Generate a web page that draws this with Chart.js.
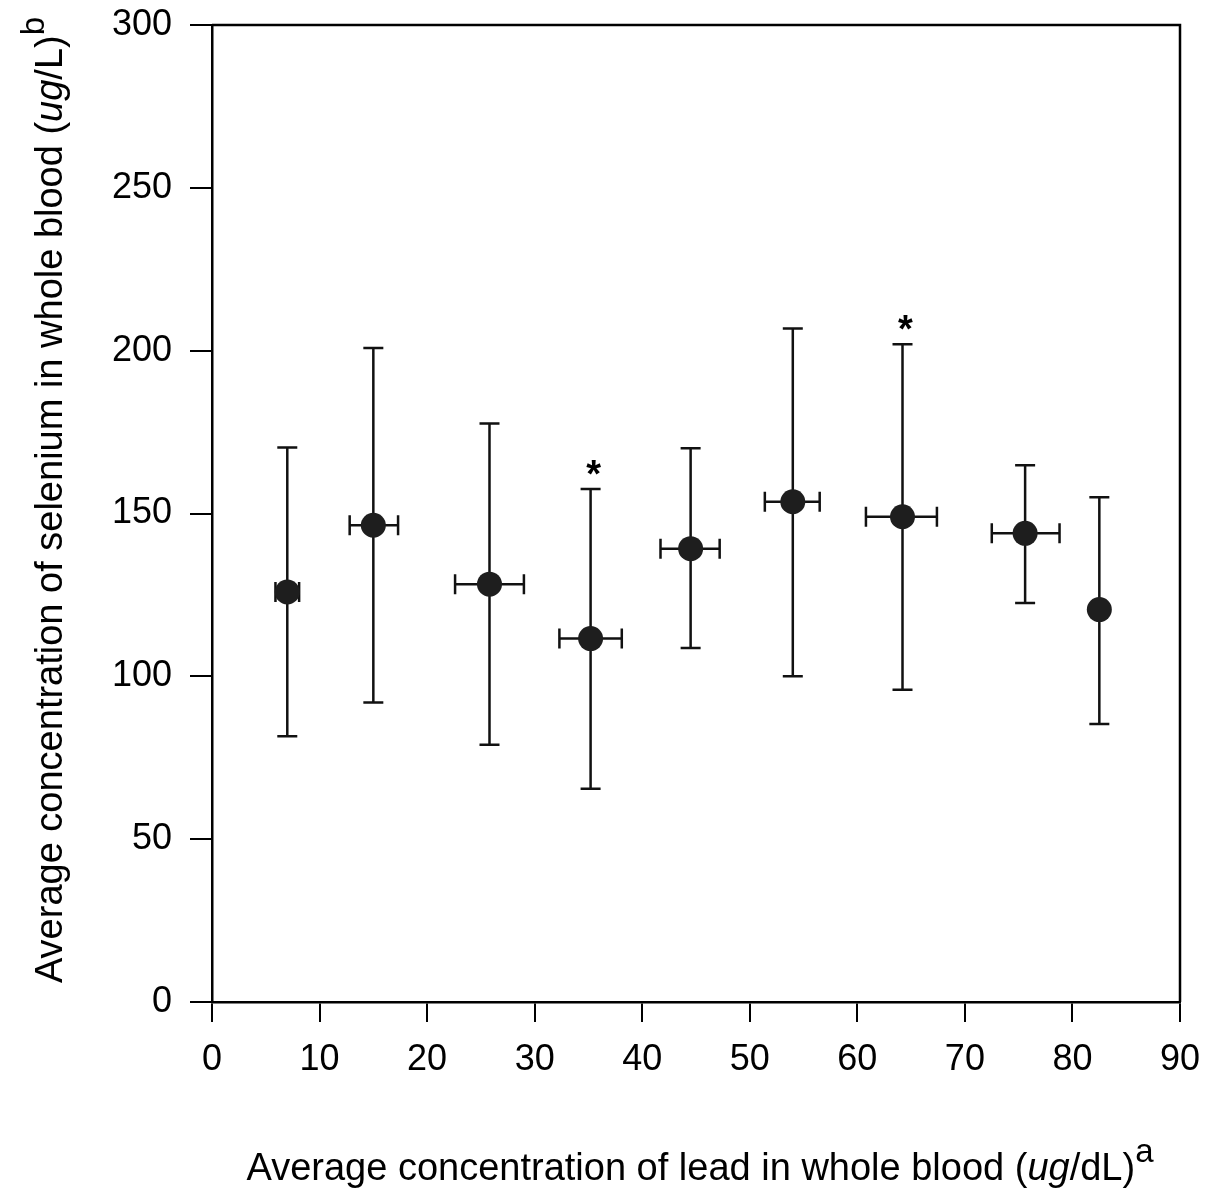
<!DOCTYPE html>
<html>
<head>
<meta charset="utf-8">
<script src="https://cdn.jsdelivr.net/npm/chart.js@4.4.1/dist/chart.umd.min.js"></script>
<style>
  html, body { margin: 0; padding: 0; background: #fff; }
  #wrap { width: 1205px; height: 1198px; position: relative; }
</style>
</head>
<body>
<div id="wrap"><canvas id="myChart"></canvas></div>
<script>
// lead in whole blood (ug/dL): group mean and horizontal error bar ends
var leadMean = [7.0, 15.0, 25.8, 35.2, 44.5, 54.0, 64.2, 75.6, 82.5];
var leadLow  = [5.9, 12.8, 22.6, 32.3, 41.7, 51.4, 60.8, 72.5, 82.5];
var leadHigh = [8.1, 17.3, 29.0, 38.1, 47.2, 56.5, 67.4, 78.8, 82.5];

// selenium in whole blood (ug/L): mean and vertical error bar ends
var seMean = [125.9, 146.4, 128.3, 111.6, 139.2, 153.6, 149.0, 143.9, 120.5];
var seLow  = [81.6, 92.0, 79.0, 65.5, 108.7, 100.0, 95.9, 122.5, 85.4];
var seHigh = [170.3, 200.8, 177.6, 157.5, 170.0, 206.8, 202.0, 164.8, 155.0];

// groups marked with an asterisk
var starred = [3, 6];

var xTicks = [0, 10, 20, 30, 40, 50, 60, 70, 80, 90];
var yTicks = [0, 50, 100, 150, 200, 250, 300];

var FONT = '"Liberation Sans", Arial, sans-serif';
var FS = 36;   // tick labels
var TS = 38;   // axis titles

// draws a line of text made of parts (plain / italic / superscript), centred on 0
function drawRich(ctx, parts) {
  var w = 0;
  parts.forEach(function(p) {
    ctx.font = (p.italic ? 'italic ' : '') + (p.sup ? 33 : TS) + 'px ' + FONT;
    p.w = ctx.measureText(p.t).width;
    w += p.w;
  });
  var x = -w / 2;
  parts.forEach(function(p) {
    ctx.font = (p.italic ? 'italic ' : '') + (p.sup ? 33 : TS) + 'px ' + FONT;
    ctx.fillText(p.t, x, p.sup ? -18 : 0);
    x += p.w;
  });
}

var errorBars = {
  id: 'errorBars',
  beforeDatasetsDraw: function(chart) {
    var ctx = chart.ctx, xs = chart.scales.x, ys = chart.scales.y;
    var cap = 10;
    ctx.save();
    ctx.strokeStyle = '#111';
    ctx.lineWidth = 2.5;
    for (var i = 0; i < leadMean.length; i++) {
      var px = xs.getPixelForValue(leadMean[i]);
      var py = ys.getPixelForValue(seMean[i]);
      var top = ys.getPixelForValue(seHigh[i]);
      var bot = ys.getPixelForValue(seLow[i]);
      ctx.beginPath();
      ctx.moveTo(px, top); ctx.lineTo(px, bot);
      ctx.moveTo(px - cap, top); ctx.lineTo(px + cap, top);
      ctx.moveTo(px - cap, bot); ctx.lineTo(px + cap, bot);
      if (leadHigh[i] > leadLow[i]) {
        var l = xs.getPixelForValue(leadLow[i]);
        var r = xs.getPixelForValue(leadHigh[i]);
        ctx.moveTo(l, py); ctx.lineTo(r, py);
        ctx.moveTo(l, py - cap); ctx.lineTo(l, py + cap);
        ctx.moveTo(r, py - cap); ctx.lineTo(r, py + cap);
      }
      ctx.stroke();
    }
    ctx.restore();
  },
  afterDraw: function(chart) {
    var ctx = chart.ctx, xs = chart.scales.x, ys = chart.scales.y, a = chart.chartArea;
    ctx.save();
    // top and right frame
    ctx.strokeStyle = '#000';
    ctx.lineWidth = 2.5;
    ctx.beginPath();
    ctx.moveTo(a.left, a.top); ctx.lineTo(a.right, a.top); ctx.lineTo(a.right, a.bottom);
    ctx.stroke();

    ctx.fillStyle = '#000';
    ctx.textAlign = 'center';
    ctx.textBaseline = 'alphabetic';
    ctx.font = 'bold 38px ' + FONT;
    starred.forEach(function(i) {
      ctx.fillText('*', xs.getPixelForValue(leadMean[i]) + 3, ys.getPixelForValue(seHigh[i]) - 2);
    });

    ctx.textAlign = 'left';
    ctx.save();
    ctx.translate(700, 1180);
    drawRich(ctx, [
      { t: 'Average concentration of lead in whole blood (' },
      { t: 'ug', italic: true },
      { t: '/dL)' },
      { t: 'a', sup: true }
    ]);
    ctx.restore();

    ctx.save();
    ctx.translate(62, 500);
    ctx.rotate(-Math.PI / 2);
    drawRich(ctx, [
      { t: 'Average concentration of selenium in whole blood (' },
      { t: 'ug', italic: true },
      { t: '/L)' },
      { t: 'b', sup: true }
    ]);
    ctx.restore();
    ctx.restore();
  }
};

var chart = new Chart(document.getElementById('myChart'), {
  type: 'scatter',
  data: {
    datasets: [{
      data: leadMean.map(function(x, i) { return { x: x, y: seMean[i] }; }),
      pointRadius: 12.5,
      pointHoverRadius: 12.5,
      pointBackgroundColor: '#1e1e1e',
      pointBorderColor: '#1e1e1e',
      pointBorderWidth: 0,
      showLine: false
    }]
  },
  options: {
    responsive: true,
    maintainAspectRatio: false,
    animation: false,
    layout: { padding: { left: 0, right: 25, top: 25, bottom: 0 } },
    plugins: { legend: { display: false }, tooltip: { enabled: false } },
    scales: {
      x: {
        type: 'linear',
        min: xTicks[0], max: xTicks[xTicks.length - 1],
        afterBuildTicks: function(s) { s.ticks = xTicks.map(function(v) { return { value: v }; }); },
        afterFit: function(s) { s.height = 196; s.paddingLeft = 0; s.paddingRight = 0; },
        grid: { drawOnChartArea: false, tickLength: 20, color: '#000', lineWidth: 2 },
        border: { color: '#000', width: 2.5 },
        ticks: { color: '#000', padding: 16, maxRotation: 0, font: { family: FONT, size: FS } }
      },
      y: {
        type: 'linear',
        min: yTicks[0], max: yTicks[yTicks.length - 1],
        afterBuildTicks: function(s) { s.ticks = yTicks.map(function(v) { return { value: v }; }); },
        afterFit: function(s) { s.width = 212; s.paddingTop = 0; s.paddingBottom = 0; },
        grid: { drawOnChartArea: false, tickLength: 22, color: '#000', lineWidth: 2 },
        border: { color: '#000', width: 2.5 },
        ticks: { color: '#000', padding: 18, font: { family: FONT, size: FS } }
      }
    }
  },
  plugins: [errorBars]
});
</script>
</body>
</html>
